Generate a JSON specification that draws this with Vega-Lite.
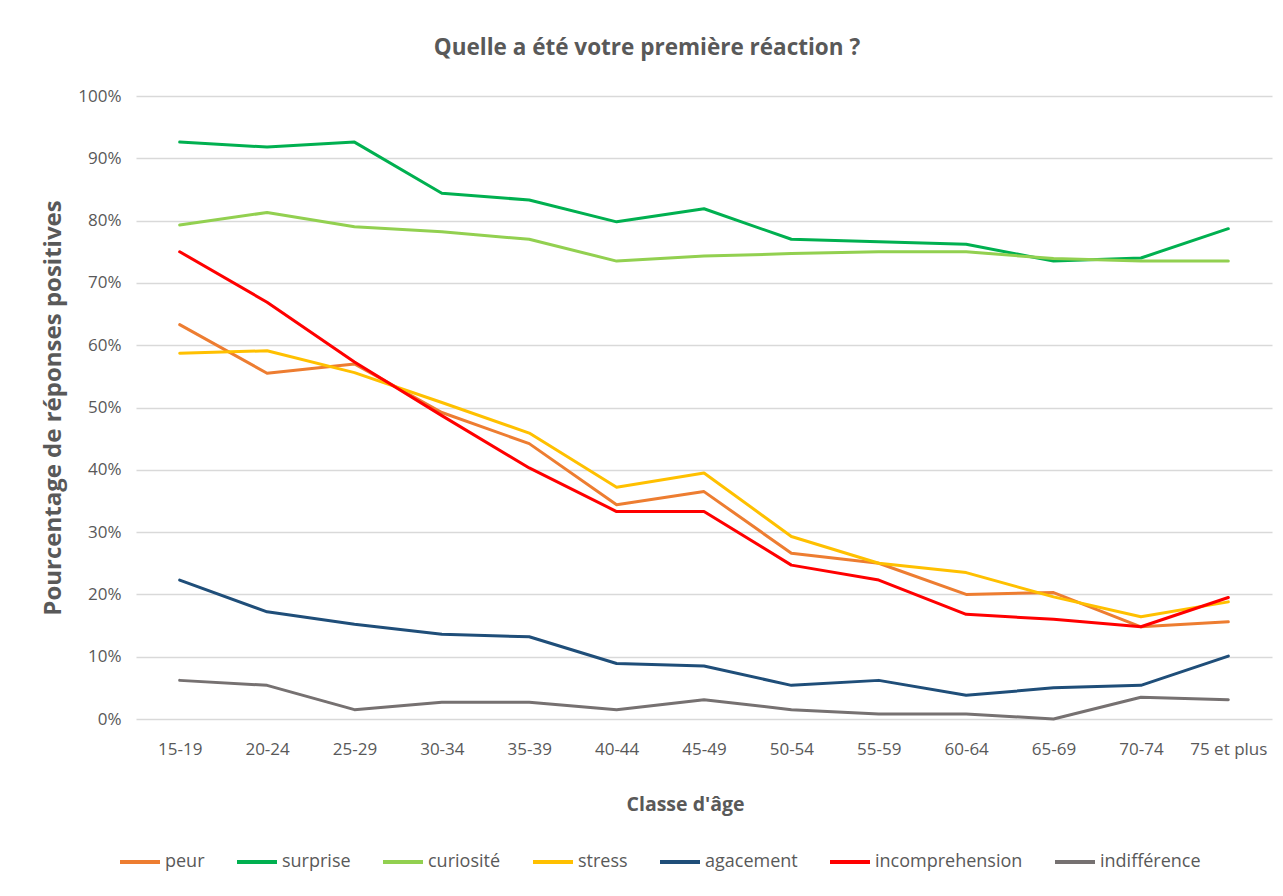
{
  "$schema": "https://vega.github.io/schema/vega-lite/v6.json",
  "autosize": {"type": "none"},
  "padding": {"left": 136, "top": 96, "right": 11, "bottom": 177},
  "width": 1136,
  "height": 623,
  "background": "white",
  "title": {
    "text": "Quelle a été votre première réaction ?",
    "fontSize": 22.5,
    "fontWeight": "bold",
    "color": "#595959",
    "font": "Open Sans",
    "anchor": "middle",
    "dx": -57,
    "offset": 28
  },
  "config": {
    "view": {"stroke": null},
    "font": "Open Sans"
  },
  "datasets": {
    "rows": [
      {"age": "15-19", "peur": 63.3, "surprise": 92.6, "curiosite": 79.3, "stress": 58.7, "agacement": 22.3, "incomprehension": 75.0, "indifference": 6.2},
      {"age": "20-24", "peur": 55.5, "surprise": 91.8, "curiosite": 81.3, "stress": 59.1, "agacement": 17.2, "incomprehension": 66.9, "indifference": 5.4},
      {"age": "25-29", "peur": 57.0, "surprise": 92.6, "curiosite": 79.0, "stress": 55.6, "agacement": 15.2, "incomprehension": 57.3, "indifference": 1.5},
      {"age": "30-34", "peur": 49.2, "surprise": 84.4, "curiosite": 78.2, "stress": 50.8, "agacement": 13.6, "incomprehension": 48.7, "indifference": 2.7},
      {"age": "35-39", "peur": 44.2, "surprise": 83.3, "curiosite": 77.0, "stress": 45.9, "agacement": 13.2, "incomprehension": 40.3, "indifference": 2.7},
      {"age": "40-44", "peur": 34.4, "surprise": 79.8, "curiosite": 73.5, "stress": 37.2, "agacement": 8.9, "incomprehension": 33.3, "indifference": 1.5},
      {"age": "45-49", "peur": 36.5, "surprise": 81.9, "curiosite": 74.3, "stress": 39.5, "agacement": 8.5, "incomprehension": 33.3, "indifference": 3.1},
      {"age": "50-54", "peur": 26.6, "surprise": 77.0, "curiosite": 74.7, "stress": 29.3, "agacement": 5.4, "incomprehension": 24.7, "indifference": 1.5},
      {"age": "55-59", "peur": 25.0, "surprise": 76.6, "curiosite": 75.0, "stress": 25.0, "agacement": 6.2, "incomprehension": 22.3, "indifference": 0.8},
      {"age": "60-64", "peur": 20.0, "surprise": 76.2, "curiosite": 75.0, "stress": 23.5, "agacement": 3.8, "incomprehension": 16.8, "indifference": 0.8},
      {"age": "65-69", "peur": 20.3, "surprise": 73.5, "curiosite": 73.9, "stress": 19.6, "agacement": 5.0, "incomprehension": 16.0, "indifference": 0.0},
      {"age": "70-74", "peur": 14.8, "surprise": 74.0, "curiosite": 73.5, "stress": 16.4, "agacement": 5.4, "incomprehension": 14.8, "indifference": 3.5},
      {"age": "75 et plus", "peur": 15.6, "surprise": 78.7, "curiosite": 73.5, "stress": 18.8, "agacement": 10.1, "incomprehension": 19.5, "indifference": 3.1}
    ]
  },
  "data": {"name": "rows"},
  "transform": [
    {"fold": ["peur", "surprise", "curiosite", "stress", "agacement", "incomprehension", "indifference"], "as": ["key", "pct"]},
    {"lookup": "key", "from": {"data": {"values": [
      {"key": "peur", "serie": "peur"},
      {"key": "surprise", "serie": "surprise"},
      {"key": "curiosite", "serie": "curiosité"},
      {"key": "stress", "serie": "stress"},
      {"key": "agacement", "serie": "agacement"},
      {"key": "incomprehension", "serie": "incomprehension"},
      {"key": "indifference", "serie": "indifférence"}
    ]}, "key": "key", "fields": ["serie"]}}
  ],
  "mark": {"type": "line", "strokeWidth": 3, "strokeCap": "round", "strokeJoin": "round"},
  "encoding": {
    "x": {
      "field": "age",
      "type": "ordinal",
      "sort": ["15-19", "20-24", "25-29", "30-34", "35-39", "40-44", "45-49", "50-54", "55-59", "60-64", "65-69", "70-74", "75 et plus"],
      "scale": {"type": "point", "padding": 0.5},
      "axis": {
        "title": "Classe d'âge",
        "titleFontSize": 19.5,
        "titleFontWeight": "bold",
        "titleColor": "#595959",
        "titlePadding": 38,
        "titleX": 549,
        "labelAngle": 0,
        "labelFontSize": 17,
        "labelColor": "#595959",
        "labelPadding": 22,
        "ticks": false,
        "domain": false,
        "grid": false
      }
    },
    "y": {
      "field": "pct",
      "type": "quantitative",
      "scale": {"domain": [0, 100], "nice": false},
      "axis": {
        "title": "Pourcentage de réponses positives",
        "titleFontSize": 24,
        "titleFontWeight": "bold",
        "titleColor": "#595959",
        "titlePadding": 12,
        "values": [0, 10, 20, 30, 40, 50, 60, 70, 80, 90, 100],
        "labelExpr": "datum.value + '%'",
        "labelFontSize": 17,
        "labelColor": "#595959",
        "labelPadding": 15,
        "ticks": false,
        "domain": false,
        "grid": true,
        "gridColor": "#d9d9d9",
        "gridWidth": 1.5
      }
    },
    "color": {
      "field": "serie",
      "type": "nominal",
      "scale": {
        "domain": ["peur", "surprise", "curiosité", "stress", "agacement", "incomprehension", "indifférence"],
        "range": ["#ED7D31", "#00B050", "#92D050", "#FFC000", "#1F4E79", "#FF0000", "#767171"]
      },
      "legend": {
        "title": null,
        "orient": "none",
        "legendX": -18,
        "legendY": 744,
        "direction": "horizontal",
        "columns": 7,
        "symbolType": "stroke",
        "symbolStrokeWidth": 4,
        "symbolSize": 1600,
        "labelFontSize": 18,
        "labelColor": "#595959",
        "labelOffset": 3,
        "columnPadding": 24
      }
    }
  }
}
